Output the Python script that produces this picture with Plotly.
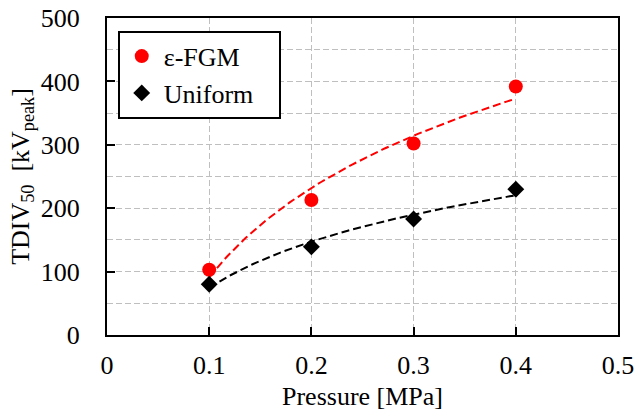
import numpy as np
import plotly.graph_objects as go

pressure = [0.1, 0.2, 0.3, 0.4]
fgm_tdiv = [103, 213, 302, 392]
uniform_tdiv = [80, 139, 183, 230]

x_ticks = [0, 0.1, 0.2, 0.3, 0.4, 0.5]
x_tick_labels = ["0", "0.1", "0.2", "0.3", "0.4", "0.5"]
y_ticks = [0, 100, 200, 300, 400, 500]

FONT = "Times New Roman, Liberation Serif, serif"


def log_fit(xs, ys):
    lx = np.log(np.array(xs, dtype=float))
    a, b = np.polyfit(lx, np.array(ys, dtype=float), 1)
    xf = np.linspace(min(xs), max(xs), 100)
    return xf, a * np.log(xf) + b


fig = go.Figure()

xf, yf = log_fit(pressure, fgm_tdiv)
fig.add_trace(go.Scatter(x=xf, y=yf, mode="lines", showlegend=False,
                         line=dict(color="#FF0000", width=2, dash="8px,4px"),
                         hoverinfo="skip"))
xu, yu = log_fit(pressure, uniform_tdiv)
fig.add_trace(go.Scatter(x=xu, y=yu, mode="lines", showlegend=False,
                         line=dict(color="#000000", width=2, dash="8px,4px"),
                         hoverinfo="skip"))

fig.add_trace(go.Scatter(x=pressure, y=fgm_tdiv, mode="markers", name="ε-FGM\u00a0\u00a0\u00a0",
                         marker=dict(symbol="circle", size=14, color="#FF0000")))
fig.add_trace(go.Scatter(x=pressure, y=uniform_tdiv, mode="markers", name="Uniform\u00a0\u00a0\u00a0",
                         marker=dict(symbol="diamond", size=13, color="#000000")))

axis_common = dict(
    showline=True, linecolor="black", linewidth=2, mirror=True,
    ticks="inside", ticklen=8, tickwidth=2, tickcolor="black",
    showgrid=True, gridcolor="#BFBFBF", gridwidth=1, griddash="6px,3px",
    zeroline=False, automargin=False, ticklabeloverflow="allow",
    tickfont=dict(family=FONT, size=26, color="black"),
)

fig.update_xaxes(
    range=[0, 0.5], tickvals=x_ticks, ticktext=x_tick_labels,
    ticklabelstandoff=6,
    title=dict(text="Pressure [MPa]", font=dict(family=FONT, size=26, color="black"), standoff=8),
    **axis_common,
)
fig.update_yaxes(
    range=[0, 500], tickvals=y_ticks,
    ticklabelstandoff=20,
    minor=dict(dtick=50, tick0=0, showgrid=True, gridcolor="#BFBFBF", gridwidth=1,
               griddash="6px,3px", ticks=""),
    title=dict(text="TDIV<sub>50</sub>  [kV<sub>peak</sub>]",
               font=dict(family=FONT, size=26, color="black"), standoff=4),
    **axis_common,
)

fig.update_layout(
    width=634, height=415,
    margin=dict(l=107, r=16, t=18, b=80, autoexpand=False),
    paper_bgcolor="white", plot_bgcolor="white",
    font=dict(family=FONT, size=26, color="black"),
    legend=dict(x=0.021, y=0.96, xanchor="left", yanchor="top",
                bgcolor="white", bordercolor="black", borderwidth=2,
                font=dict(family=FONT, size=26, color="black"),
                itemwidth=34, tracegroupgap=0),
)

fig.write_html("out.html")
